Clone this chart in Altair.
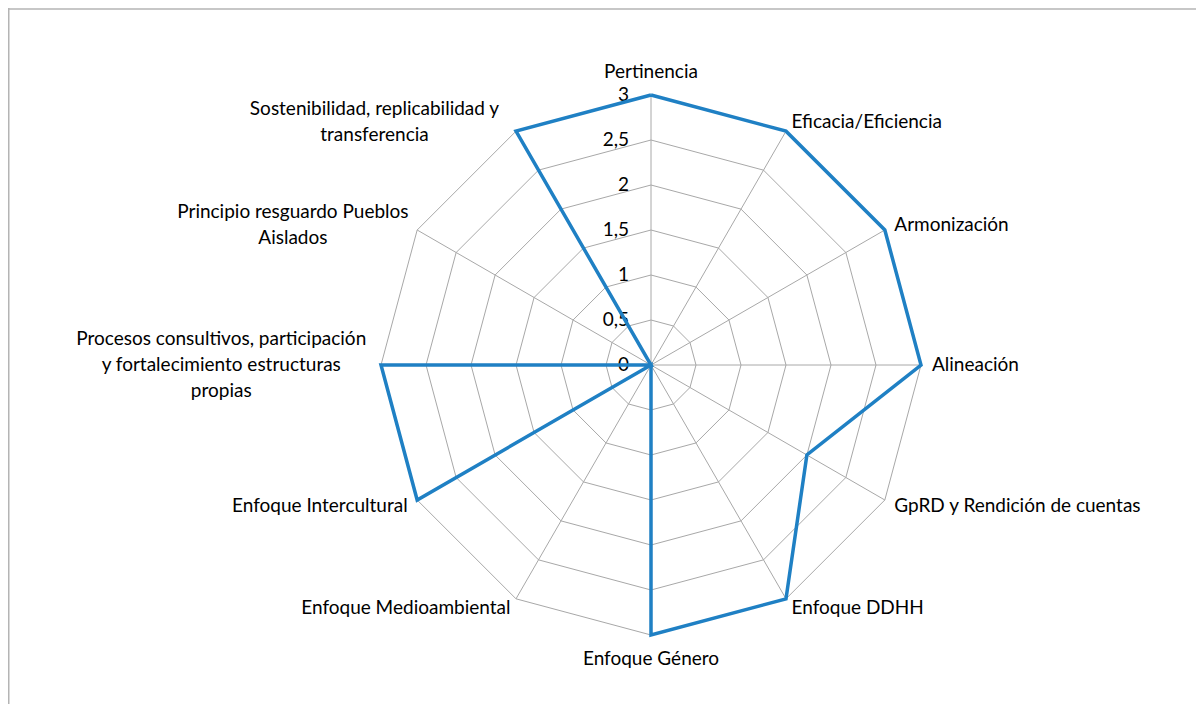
import altair as alt
import pandas as pd

# ---- data ----
categories = [
    "Pertinencia",
    "Eficacia/Eficiencia",
    "Armonización",
    "Alineación",
    "GpRD y Rendición de cuentas",
    "Enfoque DDHH",
    "Enfoque Género",
    "Enfoque Medioambiental",
    "Enfoque Intercultural",
    "Procesos consultivos, participación\ny fortalecimiento estructuras\npropias",
    "Principio resguardo Pueblos\nAislados",
    "Sostenibilidad, replicabilidad y\ntransferencia",
]
values = [3, 3, 3, 3, 2, 3, 3, 0, 3, 3, 0, 3]
tick_values = [0, 0.5, 1, 1.5, 2, 2.5, 3]
tick_labels = ["0", "0,5", "1", "1,5", "2", "2,5", "3"]

# ---- layout ----
W, H = 1188, 696
CX, CY = 643, 357          # centre of the radar in plot pixels
PX = 90.0                  # pixels per unit
RMAX = max(tick_values)
N = len(categories)
FONT = "Lato"
FS = 19
LH = 26                    # line height of wrapped labels
PAD = 11.0 / PX            # radial gap between outer ring and label
CHARW = 8.5                # rough glyph width for centring wrapped labels

xs = alt.Scale(domain=[-CX / PX, (W - CX) / PX], nice=False, zero=False)
ys = alt.Scale(domain=[-(H - CY) / PX, CY / PX], nice=False, zero=False)
X = lambda f: alt.X(f, type="quantitative", scale=xs, axis=None)
Y = lambda f: alt.Y(f, type="quantitative", scale=ys, axis=None)

ang = "datum.i * 2 * PI / %d" % N

# series (closed loop)
ser = pd.DataFrame({"i": list(range(N)) + [N], "v": values + [values[0]]})
series = alt.Chart(ser).transform_calculate(
    px="datum.v * sin(%s)" % ang, py="datum.v * cos(%s)" % ang
).mark_line(color="#1f80c4", strokeWidth=3.5, strokeJoin="miter").encode(
    x=X("px"), y=Y("py"), order="i:Q"
)

# grid rings
rows = []
for lv in tick_values[1:]:
    for i in range(N + 1):
        rows.append({"lv": lv, "i": i})
grid = pd.DataFrame(rows)
rings = alt.Chart(grid).transform_calculate(
    px="datum.lv * sin(%s)" % ang, py="datum.lv * cos(%s)" % ang
).mark_line(color="#a8a8a8", strokeWidth=1).encode(
    x=X("px"), y=Y("py"), detail="lv:N", order="i:Q"
)

# spokes
sp = pd.DataFrame({"i": list(range(N)), "r": [RMAX] * N, "z": [0.0] * N})
spokes = alt.Chart(sp).transform_calculate(
    px="datum.r * sin(%s)" % ang, py="datum.r * cos(%s)" % ang
).mark_rule(color="#a8a8a8", strokeWidth=1).encode(
    x=X("z"), y=Y("z"), x2="px:Q", y2="py:Q"
)

# tick labels along the top spoke
tk = pd.DataFrame({"t": tick_values, "lab": tick_labels, "z": [0.0] * len(tick_values)})
ticks = alt.Chart(tk).mark_text(
    align="right", baseline="middle", dx=-22, font=FONT, fontSize=FS, color="#000000"
).encode(x=X("z"), y=Y("t"), text="lab:N")

# category labels
lab = pd.DataFrame({"i": list(range(N)), "lab": categories})
lab["nl"] = lab["lab"].str.count("\n") + 1
lab["halfw"] = lab["lab"].apply(lambda s: max(len(p) for p in s.split("\n")) * CHARW / 2 / PX)
lab["side"] = [
    "top" if i == 0 else "bottom" if i == N // 2 else "right" if i < N // 2 else "left"
    for i in range(N)
]
lab["multi"] = lab["nl"] > 1
R = RMAX + PAD
base = alt.Chart(lab).transform_calculate(
    lx="%f * sin(%s)" % (R, ang),
    ly="%f * cos(%s) + (datum.nl - 1) * %f" % (R, ang, LH / 2 / PX),
)
tkw = dict(font=FONT, fontSize=FS, color="#000000", lineBreak="\n", lineHeight=LH)
lab_top = base.transform_filter("datum.side == 'top'").mark_text(
    align="center", baseline="alphabetic", dy=-6, **tkw
).encode(x=X("lx"), y=Y("ly"), text="lab:N")
lab_bot = base.transform_filter("datum.side == 'bottom'").mark_text(
    align="center", baseline="middle", dy=13, **tkw
).encode(x=X("lx"), y=Y("ly"), text="lab:N")
lab_right = base.transform_filter("datum.side == 'right'").mark_text(
    align="left", baseline="middle", **tkw
).encode(x=X("lx"), y=Y("ly"), text="lab:N")
lab_left1 = base.transform_filter("datum.side == 'left' && !datum.multi").mark_text(
    align="right", baseline="middle", **tkw
).encode(x=X("lx"), y=Y("ly"), text="lab:N")
lab_left2 = base.transform_filter("datum.side == 'left' && datum.multi").transform_calculate(
    cx="datum.lx - datum.halfw"
).mark_text(align="center", baseline="middle", **tkw).encode(
    x=X("cx"), y=Y("ly"), text="lab:N"
)

# outer chart-area border (top and left edges visible in the reference)
frame_top = alt.Chart(pd.DataFrame({"a": [0]})).mark_rule(
    color="#b4b4b4", strokeWidth=1.5
).encode(x=alt.value(0), x2=alt.value(W), y=alt.value(1))
frame_left = alt.Chart(pd.DataFrame({"a": [0]})).mark_rule(
    color="#b4b4b4", strokeWidth=1.5
).encode(x=alt.value(0.75), y=alt.value(0), y2=alt.value(H))

chart = alt.layer(
    frame_top, frame_left, rings, spokes, ticks, series,
    lab_top, lab_bot, lab_right, lab_left1, lab_left2,
).properties(
    width=W, height=H, padding=0, autosize=alt.AutoSizeParams(type="none"),
    background="white",
).configure_view(stroke=None)

chart.save("out.html", embed_options={"renderer": "svg", "actions": False})
